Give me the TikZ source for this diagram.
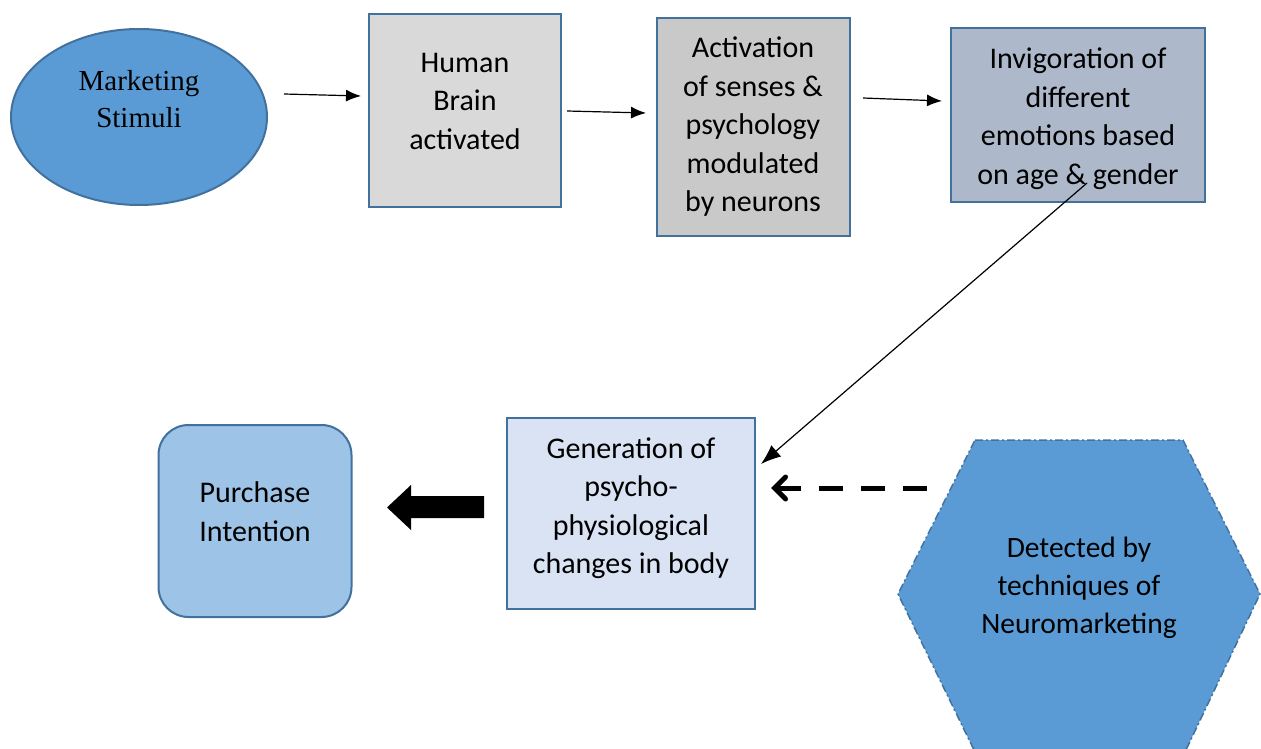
\documentclass[tikz,border=0pt]{standalone}
\usepackage{fontspec}
\setmainfont{Carlito}
\newfontfamily\timesf{Liberation Serif}
\usetikzlibrary{arrows.meta,shapes.geometric}
\definecolor{bord}{HTML}{41719C}
\definecolor{midblue}{HTML}{5B9BD5}
\definecolor{gray1}{HTML}{D9D9D9}
\definecolor{gray2}{HTML}{C9C9C9}
\definecolor{slate}{HTML}{ADB9CA}
\definecolor{pale}{HTML}{DAE3F3}
\definecolor{lblue}{HTML}{9DC3E6}
\tikzset{
  box/.style={draw=bord, line width=2, inner sep=0, outer sep=0},
  txt/.style={align=center, inner sep=0, font=\fontsize{30}{38.5}\selectfont},
  thin arrow/.style={line width=1.2, -{Latex[length=15,width=12]}},
}
\begin{document}
\begin{tikzpicture}[x=1pt,y=-1pt]
\useasboundingbox (0,0) rectangle (1261,749);
% shapes
\node[box, ellipse, fill=midblue, minimum width=256, minimum height=176] (ms) at (139,117) {};
\node[box, rectangle, fill=gray1, minimum width=192, minimum height=193] (hb) at (465,110.5) {};
\node[box, rectangle, fill=gray2, minimum width=193, minimum height=218] (act) at (753.5,127) {};
\node[box, rectangle, fill=slate, minimum width=254, minimum height=174] (inv) at (1078,115) {};
\node[box, rectangle, fill=pale, minimum width=248, minimum height=191] (gen) at (631,513.5) {};
\node[box, rectangle, rounded corners=30, fill=lblue, minimum width=193, minimum height=192] (pi) at (255,521) {};
% hexagon
\coordinate (hx1) at (975,440);
\coordinate (hx2) at (1183,440);
\coordinate (hx3) at (1260,594);
\coordinate (hx4) at (1185,752);
\coordinate (hx5) at (975,752);
\coordinate (hx6) at (898,594);
\fill[midblue] (hx1) -- (hx2) -- (hx3) -- (hx4) -- (hx5) -- (hx6) -- cycle;
\draw[bord, line width=1.5, dash pattern=on 8 off 3 on 2 off 3] (hx1) -- (hx2) -- (hx3) -- (hx4) -- (hx5) -- (hx6) -- cycle;
% texts
\node[txt, font=\timesf\fontsize{29}{37}\selectfont] (tms) at (139,99.5) {Marketing\\Stimuli};
\node[txt] (thb) at (465,101) {Human\\Brain\\activated};
\node[txt] (tact) at (753,127) {Activation\\of senses \&\\psychology\\modulated\\by neurons};
\node[txt] (tinv) at (1078,118.5) {Invigoration of\\different\\emotions based\\on age \& gender};
\node[txt] (tgen) at (631,508) {Generation of\\psycho-\\physiological\\changes in body};
\node[txt] (tpi) at (255,511.5) {Purchase\\Intention};
\node[txt, font=\fontsize{29.5}{38}\selectfont] (tdet) at (1079,587.5) {Detected by\\techniques of\\Neuromarketing};
% connectors
\coordinate (a1s) at (284,94);   \coordinate (a1e) at (361,96);
\coordinate (a2s) at (567,111);  \coordinate (a2e) at (646,113);
\coordinate (a3s) at (863,98);   \coordinate (a3e) at (942,101);
\coordinate (a4s) at (1087,183); \coordinate (a4e) at (761,464);
\coordinate (a5s) at (927,488);  \coordinate (a5e) at (771,488);
\draw[thin arrow] (a1s) -- (a1e);
\draw[thin arrow] (a2s) -- (a2e);
\draw[thin arrow] (a3s) -- (a3e);
\draw[line width=1.2, -{Latex[length=20,width=15]}] (a4s) -- (a4e);
\draw[line width=5, dash pattern=on 24 off 18, -{Straight Barb[length=11,width=22,line cap=round]}] (a5s) -- (a5e);
% block arrow
\fill[black] (484,496) -- (411,496) -- (411,485) -- (387,507.5) -- (411,530) -- (411,518) -- (484,518) -- cycle;
\end{tikzpicture}
\end{document}
